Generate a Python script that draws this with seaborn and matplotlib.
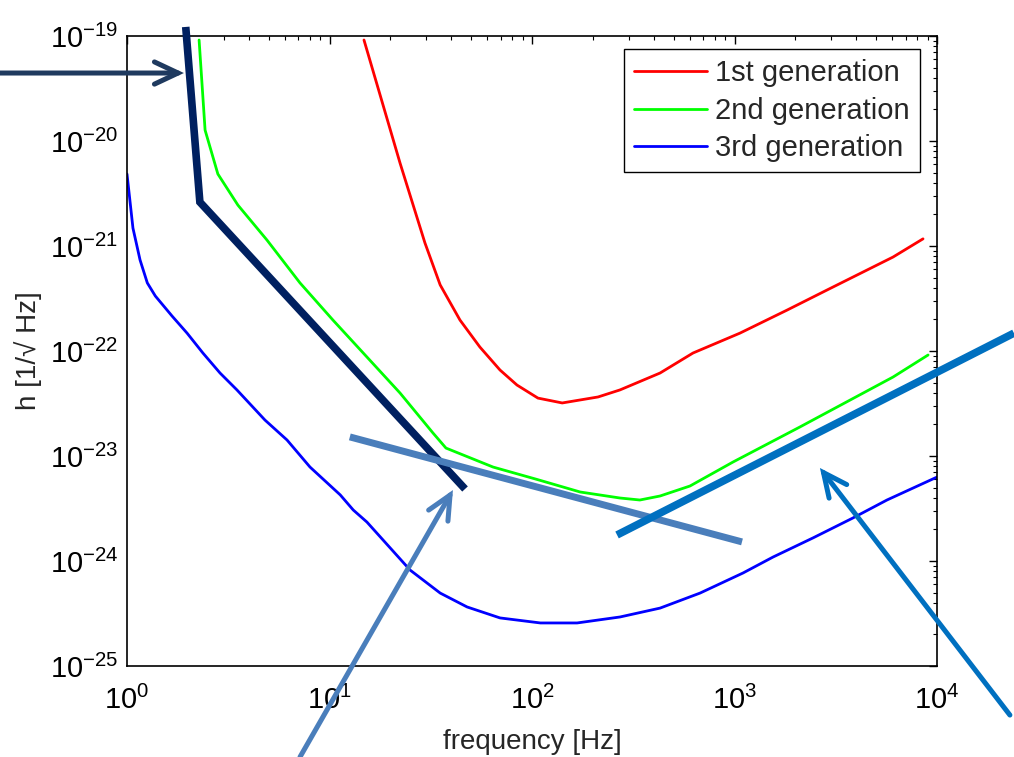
import numpy as np
import pandas as pd
import matplotlib
matplotlib.use("Agg")
import matplotlib.pyplot as plt
from matplotlib.patches import FancyArrowPatch
from matplotlib.ticker import LogLocator, NullFormatter, LogFormatterSciNotation
import seaborn as sns

# curves: frequency [Hz] and strain h [1/sqrt(Hz)]
freq_gen1 = [14.8, 22.3, 29.6, 35.2, 44.1, 55.3, 69.5, 84.3, 107, 141, 212, 272,
             429, 624, 1064, 1816, 2864, 6067, 8531]
h_gen1 = [9.16e-20, 6.17e-21, 1.07e-21, 4.26e-22, 1.97e-22, 1.09e-22, 6.59e-23,
          4.74e-23, 3.56e-23, 3.20e-23, 3.65e-23, 4.26e-23, 6.17e-23, 9.57e-23,
          1.48e-22, 2.45e-22, 3.81e-22, 7.85e-22, 1.17e-21]

freq_gen2 = [2.27, 2.43, 2.81, 3.53, 4.91, 7.15, 10.4, 15.3, 22.3, 32.4, 37.6, 64.2,
             104, 173, 272, 341, 429, 603, 984, 2104, 6067, 9036]
h_gen2 = [9.16e-20, 1.27e-20, 4.85e-21, 2.45e-21, 1.14e-21, 4.45e-22, 1.97e-22,
          8.77e-23, 3.98e-23, 1.66e-23, 1.19e-23, 7.85e-24, 6.04e-24, 4.54e-24,
          3.98e-24, 3.81e-24, 4.16e-24, 5.18e-24, 8.77e-24, 1.89e-23, 5.65e-23, 9.16e-23]

freq_gen3 = [1.0, 1.07, 1.16, 1.26, 1.38, 1.67, 1.98, 2.37, 2.88, 3.49, 4.80, 6.17,
             8.01, 11.3, 13.1, 15.3, 25.0, 35.2, 47.8, 69.5, 110, 167, 272, 429, 676,
             1102, 1549, 2443, 3846, 5662, 10000]
h_gen3 = [4.85e-21, 1.48e-21, 7.36e-22, 4.45e-22, 3.34e-22, 2.15e-22, 1.48e-22,
          9.57e-23, 6.17e-23, 4.26e-23, 2.20e-23, 1.42e-23, 7.85e-24, 4.26e-24,
          3.06e-24, 2.35e-24, 8.20e-25, 4.95e-25, 3.65e-25, 2.87e-25, 2.57e-25,
          2.57e-25, 2.93e-25, 3.56e-25, 4.95e-25, 7.69e-25, 1.09e-24, 1.66e-24,
          2.57e-24, 3.81e-24, 6.3e-24]

labels = ["1st generation", "2nd generation", "3rd generation"]
colors = ["#FF0000", "#00FF00", "#0000FF"]

xticks = [1e0, 1e1, 1e2, 1e3, 1e4]
yticks = [1e-25, 1e-24, 1e-23, 1e-22, 1e-21, 1e-20, 1e-19]

# overlay sketch lines / arrows (in data units, some lie outside the axes)
navy_f = [1.95, 2.29, 46.7]
navy_h = [1.22e-19, 2.62e-21, 4.85e-24]
steel_f = [12.6, 1089]
steel_h = [1.52e-23, 1.52e-24]
mid_f = [263, 23988]
mid_h = [1.77e-24, 1.48e-22]
arrows = [  # (tail, tip, colour)
    ((0.236, 4.44e-20), (1.91, 4.44e-20), "#1F3A5F"),
    ((7.15, 1.36e-26), (40.7, 4.74e-24), "#4A7EBB"),
    ((22909, 3.41e-26), (2642, 7.69e-24), "#0070C0"),
]

df = pd.concat([
    pd.DataFrame({"f": freq_gen1, "h": h_gen1, "gen": labels[0]}),
    pd.DataFrame({"f": freq_gen2, "h": h_gen2, "gen": labels[1]}),
    pd.DataFrame({"f": freq_gen3, "h": h_gen3, "gen": labels[2]}),
])

sns.set_theme(style="white")
plt.rcParams["font.family"] = ["Liberation Sans", "DejaVu Sans"]
plt.rcParams["mathtext.fontset"] = "custom"
plt.rcParams["mathtext.rm"] = "Liberation Sans"

fig = plt.figure(figsize=(10.14, 7.57), dpi=100)
ax = fig.add_axes([127 / 1014, 91 / 757, 810 / 1014, 630 / 757])

sns.lineplot(data=df, x="f", y="h", hue="gen", palette=dict(zip(labels, colors)),
             estimator=None, sort=False, linewidth=2.0, ax=ax)

ax.set_xscale("log")
ax.set_yscale("log")
ax.set_xlim(1, 1e4)
ax.set_ylim(1e-25, 1e-19)

ax.set_xticks(xticks)
ax.set_yticks(yticks)
ax.xaxis.set_major_formatter(LogFormatterSciNotation())
ax.yaxis.set_major_formatter(LogFormatterSciNotation())
ax.xaxis.set_minor_locator(LogLocator(base=10, subs=np.arange(2, 10), numticks=100))
ax.yaxis.set_minor_locator(LogLocator(base=10, subs=np.arange(2, 10), numticks=100))
ax.xaxis.set_minor_formatter(NullFormatter())
ax.yaxis.set_minor_formatter(NullFormatter())

ax.tick_params(which="both", direction="in", top=True, right=True, colors="black",
               labelsize=21)
ax.tick_params(which="major", length=6, width=1)
ax.tick_params(which="minor", length=3, width=0.8, labelleft=False,
               labelbottom=False)
ax.tick_params(axis="x", which="major", pad=14)
ax.tick_params(axis="y", which="major", pad=6)
for sp in ax.spines.values():
    sp.set_color("black")
    sp.set_linewidth(1.2)

ax.set_xlabel("frequency [Hz]", fontsize=20)
ax.set_ylabel("h [1/√ Hz]", fontsize=20)
ax.xaxis.set_label_coords(0.5, -0.1)
ax.yaxis.set_label_coords(-0.105, 0.5)

handles, _ = ax.get_legend_handles_labels()
leg = ax.legend(handles, labels, loc="upper right", bbox_to_anchor=(0.979, 0.979),
                borderaxespad=0, fontsize=21, frameon=True, fancybox=False,
                framealpha=1, edgecolor="black", handlelength=2.5,
                handletextpad=0.28, labelspacing=0.32, borderpad=0.35)
leg.get_frame().set_linewidth(1.0)

# hand-drawn overlay
ax.plot(navy_f, navy_h, color="#002060", lw=5.5, solid_capstyle="butt",
        solid_joinstyle="miter", clip_on=False, zorder=5)
ax.plot(steel_f, steel_h, color="#4A7EBB", lw=5, solid_capstyle="butt",
        clip_on=False, zorder=6)
ax.plot(mid_f, mid_h, color="#0070C0", lw=5.5, solid_capstyle="butt",
        clip_on=False, zorder=7)
for tail, tip, col in arrows:
    ax.add_patch(FancyArrowPatch(tail, tip, transform=ax.transData,
                                 arrowstyle="->,head_length=1.7,head_width=0.8",
                                 mutation_scale=10, color=col, lw=3.6,
                                 shrinkA=0, shrinkB=0, capstyle="round",
                                 joinstyle="miter", clip_on=False, zorder=8))

fig.savefig("out.png", dpi=100)
